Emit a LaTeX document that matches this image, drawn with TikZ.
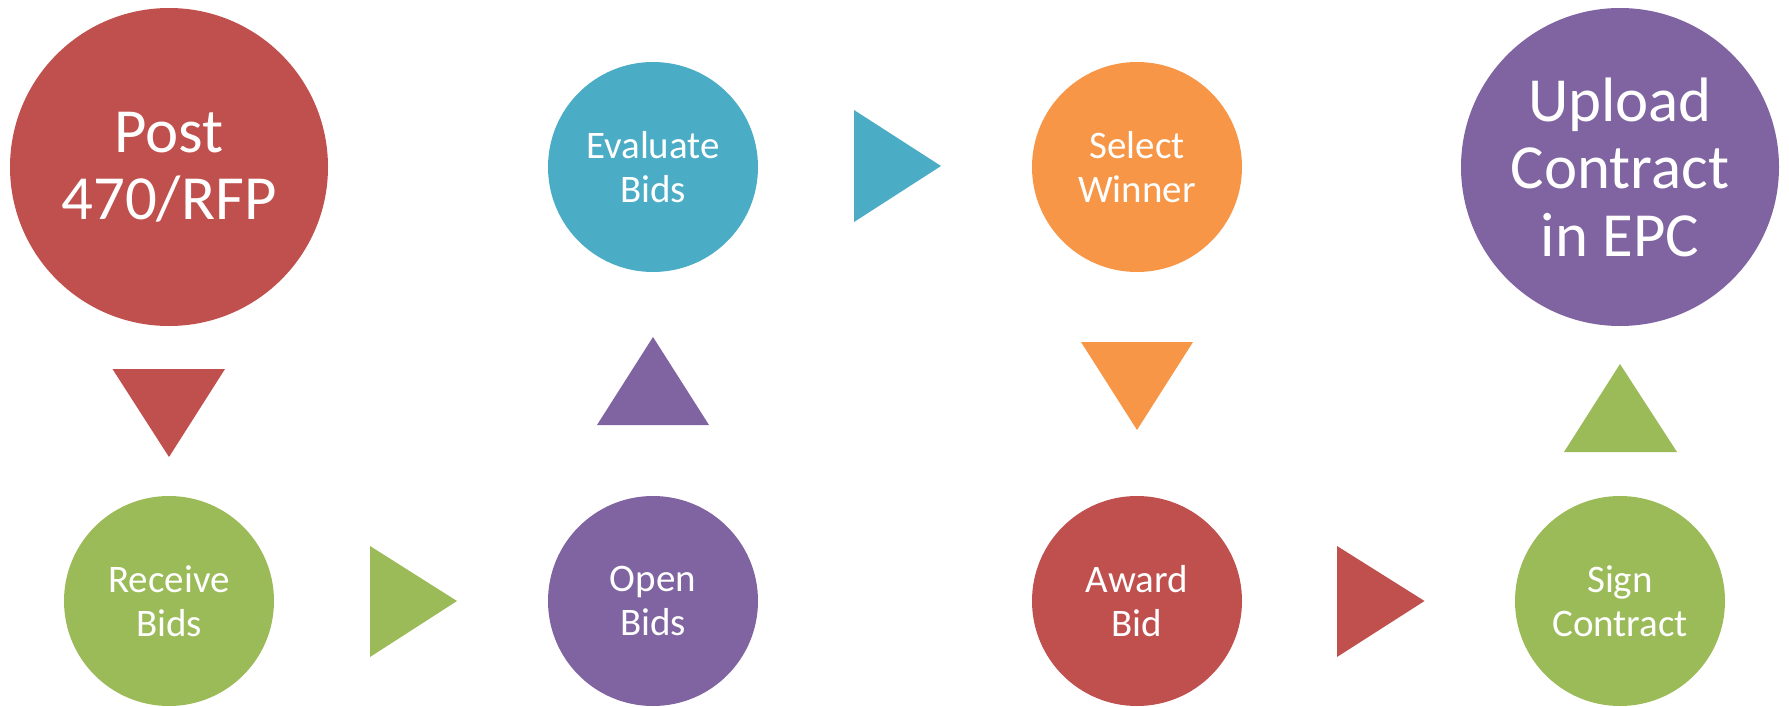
\documentclass[tikz,border=0pt]{standalone}
\usepackage{fontspec}
\setmainfont{Carlito}
\definecolor{cred}{HTML}{C0504D}
\definecolor{cteal}{HTML}{4BACC6}
\definecolor{corange}{HTML}{F79646}
\definecolor{cpurple}{HTML}{8064A2}
\definecolor{cgreen}{HTML}{9BBB59}
\tikzset{
  bigc/.style={circle,inner sep=0pt,minimum size=318pt,text=white,align=center,font=\fontsize{62.8}{67.5}\selectfont},
  smallc/.style={circle,inner sep=0pt,minimum size=210pt,text=white,align=center,font=\fontsize{39}{44}\selectfont},
}
\begin{document}
\begin{tikzpicture}[x=1pt,y=-1pt]
\useasboundingbox (0,0) rectangle (1789,707);
\node[bigc,fill=cred] (post) at (169,167) {Post\\470/RFP};
\node[smallc,fill=cteal] (eval) at (653,167) {Evaluate\\Bids};
\node[smallc,fill=corange] (select) at (1137,167) {Select\\Winner};
\node[bigc,fill=cpurple] (upload) at (1620,167) {Upload\\Contract\\in EPC};
\node[smallc,fill=cgreen] (receive) at (169,601) {Receive\\Bids};
\node[smallc,fill=cpurple] (open) at (653,601) {Open\\Bids};
\node[smallc,fill=cred] (award) at (1137,601) {Award\\Bid};
\node[smallc,fill=cgreen] (sign) at (1620,601) {Sign\\Contract};
\fill[cred] (112.5,369) -- (225,369) -- (169,457) -- cycle;
\fill[cpurple] (597,425) -- (709,425) -- (653,337) -- cycle;
\fill[cteal] (854,110) -- (854,222) -- (941,166) -- cycle;
\fill[cgreen] (370,546) -- (370,657) -- (457,601) -- cycle;
\fill[corange] (1081,342) -- (1193,342) -- (1137,430) -- cycle;
\fill[cred] (1337,546) -- (1337,657) -- (1424.5,601) -- cycle;
\fill[cgreen] (1564,452) -- (1677,452) -- (1620,364) -- cycle;
\end{tikzpicture}
\end{document}
